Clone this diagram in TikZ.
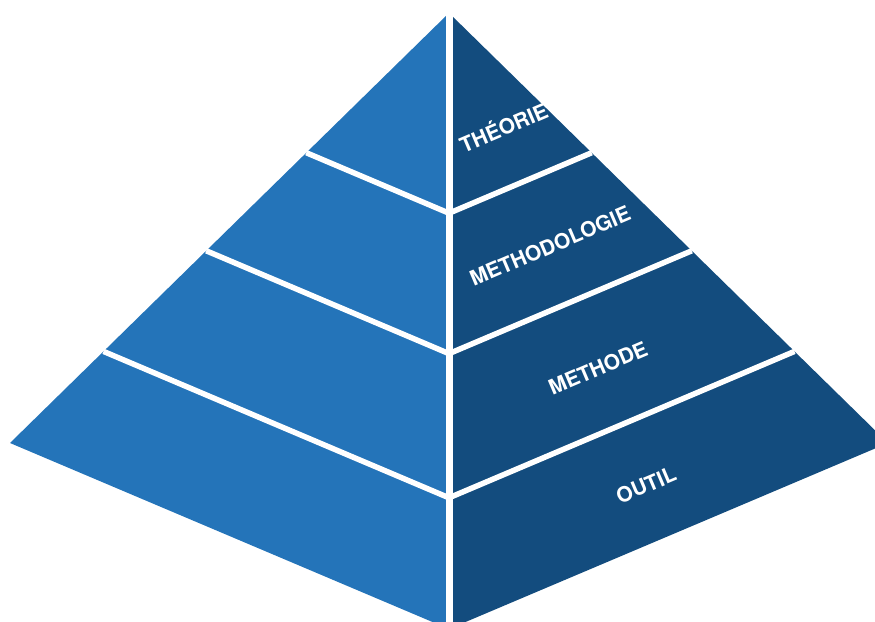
\documentclass[tikz,border=0pt]{standalone}
\usepackage{fontspec}
\newfontfamily\pyrfont{TeX Gyre Heros}
\usetikzlibrary{calc}
\definecolor{faceleft}{HTML}{2474B9}
\definecolor{faceright}{HTML}{134C7E}

\begin{document}
\begin{tikzpicture}[x=1pt,y=-1pt,
  levellabel/.style={font=\pyrfont\bfseries\fontsize{21}{21}\selectfont,text=white,rotate=23,inner sep=0pt},
  seam/.style={white,line width=5.5pt}]
  \useasboundingbox (0,0) rectangle (875,621);
  \clip (0,0) rectangle (875,621);
  % corners of the pyramid
  \coordinate (apex) at (449,13);
  \coordinate (base) at (449,629);
  \coordinate (left) at (10,443);
  \coordinate (right) at (888,443);
  \fill[faceleft] (apex) -- (left) -- (base) -- cycle;
  \fill[faceright] (apex) -- (right) -- (base) -- cycle;
  \draw[white,line width=7pt] (apex) -- (base);
  \foreach \t in {0.325,0.553,0.787}
    \draw[seam] ($(apex)!\t!(left)$) -- ($(apex)!\t!(base)$) -- ($(apex)!\t!(right)$);
  % levels
  \node[levellabel] (theorie) at (503,126) {THÉORIE};
  \node[levellabel] (methodologie) at (550,246) {METHODOLOGIE};
  \node[levellabel] (methode) at (598,368) {METHODE};
  \node[levellabel] (outil) at (646,485) {OUTIL};
\end{tikzpicture}
\end{document}
